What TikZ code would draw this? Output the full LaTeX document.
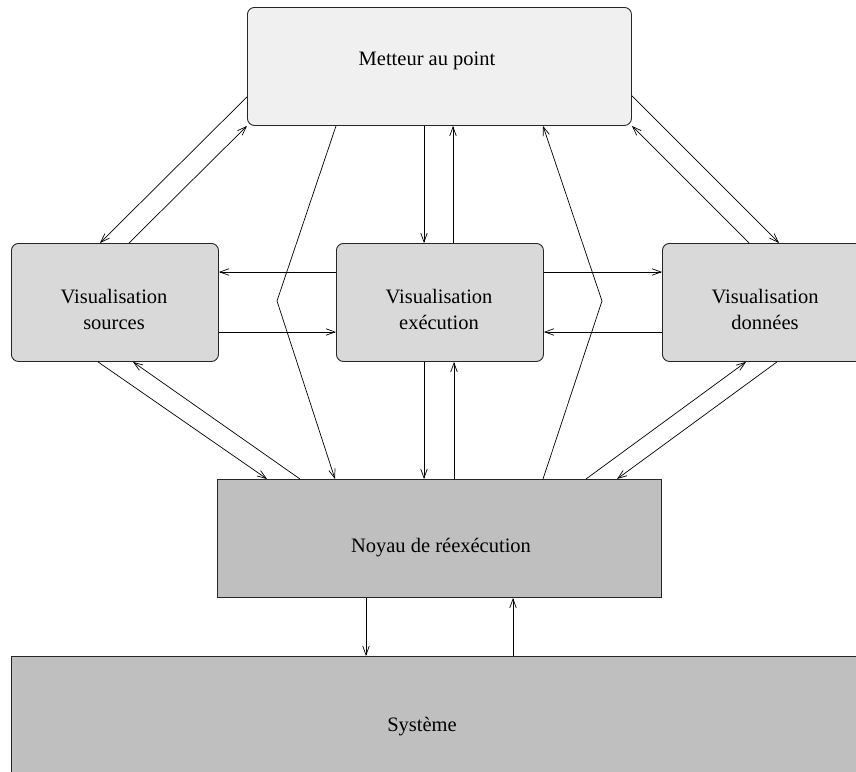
\documentclass[tikz,border=0pt]{standalone}
\usepackage{fontspec}
\setmainfont{Liberation Serif}
\usetikzlibrary{calc,arrows.meta}
\definecolor{paleface}{HTML}{F0F0F0}
\definecolor{viewface}{HTML}{D9D9D9}
\definecolor{coreface}{HTML}{BFBFBF}
\begin{document}
\begin{tikzpicture}[x=1pt,y=-1pt,
  panel/.style={draw=black!85, line width=0.9pt, inner sep=0pt, anchor=north west,
                minimum height=118pt},
  viewbox/.style={panel, fill=viewface, rounded corners=7pt, minimum width=207pt},
  label text/.style={font=\fontsize{20.5}{26}\selectfont, align=center, inner sep=0pt},
  link/.style={line width=0.7pt, -{Straight Barb[length=9pt,width=6.5pt,line width=0.7pt]}},
]
\useasboundingbox (0,0) rectangle (856,771);
\clip (0,0) rectangle (856,771);

% boxes
\node[panel, fill=paleface, rounded corners=7pt, minimum width=384pt] (top) at (247,7) {};
\node[viewbox] (src) at (11,243) {};
\node[viewbox] (exe) at (336,243) {};
\node[viewbox] (dat) at (662,243) {};
\node[panel, fill=coreface, minimum width=444pt] (noy) at (217,479) {};
\node[panel, fill=coreface, minimum width=870pt, minimum height=140pt] (sys) at (11,656) {};

% texts
\node[label text] (topT) at (427,61) {Metteur au point};
\node[label text] (srcT) at (114,309) {Visualisation\\sources};
\node[label text] (exeT) at (439,309) {Visualisation\\exécution};
\node[label text] (datT) at (765,309) {Visualisation\\données};
\node[label text] (noyT) at (441,548) {Noyau de réexécution};
\node[label text] (sysT) at (422,727) {Système};

% debugger <-> source view
\draw[link] ($(top.south west)+(0,-29)$) -- ($(src.north west)+(89,0)$);
\draw[link] ($(src.north west)+(118,0)$) -- (top.south west);
% debugger <-> data view
\draw[link] ($(top.south east)+(0,-30)$) -- ($(dat.north west)+(117,0)$);
\draw[link] ($(dat.north west)+(87,0)$) -- (top.south east);
% debugger <-> kernel (around the execution view)
\draw[link] ($(top.south west)+(89,0)$) -- (277,301) -- ($(noy.north west)+(118,0)$);
\draw[link] ($(noy.north west)+(326,0)$) -- (602,301) -- ($(top.south west)+(296,0)$);
% debugger <-> execution view
\coordinate (d1) at ($(top.south west)+(177,0)$);
\coordinate (d2) at ($(top.south west)+(206,0)$);
\draw[link] (d1) -- (d1 |- exe.north);
\draw[link] (d2 |- exe.north) -- (d2);
% execution view <-> source view / data view
\coordinate (h1) at ($(exe.north west)+(0,29)$);
\coordinate (h2) at ($(exe.north west)+(0,89)$);
\draw[link] (h1) -- (h1 -| src.east);
\draw[link] (h2 -| src.east) -- (h2);
\draw[link] (h1 -| exe.east) -- (h1 -| dat.west);
\draw[link] (h2 -| dat.west) -- (h2 -| exe.east);
% views <-> kernel
\draw[link] ($(src.south west)+(87,0)$) -- ($(noy.north west)+(50,0)$);
\draw[link] ($(noy.north west)+(83,0)$) -- ($(src.south west)+(122,0)$);
\coordinate (v1) at ($(exe.south west)+(88,0)$);
\coordinate (v2) at ($(exe.south west)+(118,0)$);
\draw[link] (v1) -- (v1 |- noy.north);
\draw[link] (v2 |- noy.north) -- (v2);
\draw[link] ($(noy.north west)+(369,0)$) -- ($(dat.south west)+(84,0)$);
\draw[link] ($(dat.south west)+(115,0)$) -- ($(noy.north west)+(400,0)$);
% kernel <-> system
\coordinate (k1) at ($(noy.south west)+(149,0)$);
\coordinate (k2) at ($(noy.south west)+(296,0)$);
\draw[link] (k1) -- (k1 |- sys.north);
\draw[link] (k2 |- sys.north) -- (k2);
\end{tikzpicture}
\end{document}
